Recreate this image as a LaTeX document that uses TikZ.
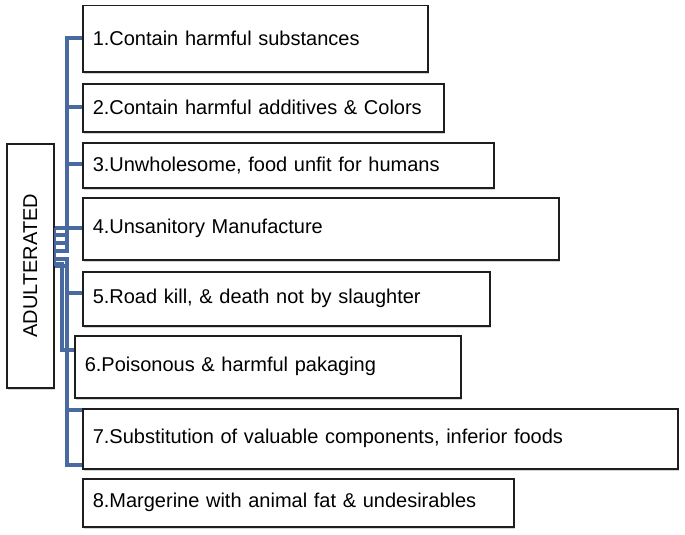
\documentclass[tikz,border=0pt]{standalone}
\usepackage{fontspec}
\setmainfont{Liberation Sans}
\usetikzlibrary{shadows}
\definecolor{connblue}{RGB}{72,106,160}
\definecolor{boxline}{RGB}{30,30,30}
\tikzset{
  itembox/.style={draw=boxline, line width=1.5pt, fill=white, anchor=north west,
    inner xsep=10pt, inner ysep=0pt, align=left, font=\fontsize{20}{24}\selectfont,
    drop shadow={opacity=0.35, shadow xshift=1.3pt, shadow yshift=-1.8pt}},
  conn/.style={draw=connblue, line width=3.5pt},
  thinconn/.style={draw=connblue, line width=2pt},
}
\begin{document}
\begin{tikzpicture}[x=1pt,y=-1pt]
\useasboundingbox (0,0) rectangle (685,535);
% root box
\node[itembox, inner xsep=0pt, minimum width=47pt, minimum height=244pt] (ad) at (6,143) {};
\node[rotate=90, font=\fontsize{20}{24}\selectfont] (adtext) at (ad.center) {ADULTERATED};
% connectors (drawn before boxes)
\draw[conn] (ad.east |- 0,228) -- (82,228);
\draw[conn] (ad.east |- 0,235) -- (67,235) -- (67,164) -- (82,164);
\draw[conn] (ad.east |- 0,243) -- (67,243) -- (67,107) -- (82,107);
\draw[conn] (ad.east |- 0,251) -- (67,251) -- (67,38) -- (82,38);
\draw[conn] (ad.east |- 0,259) -- (67,259) -- (67,293) -- (82,293);
\draw[conn] (ad.east |- 0,264) -- (62,264) -- (62,350) -- (74,350);
\draw[conn] (ad.east |- 0,266) -- (67,266) -- (67,410) -- (82,410);
\draw[conn] (67,400) -- (67,465) -- (82,465);
\draw[thinconn] (55,228) -- (55,266);
% item boxes
\node[itembox, text width=325pt, minimum height=66pt] (b1) at (82,5) {1.Contain harmful substances};
\node[itembox, text width=341pt, minimum height=48pt] (b2) at (82,83) {2.Contain harmful additives \& Colors};
\node[itembox, text width=391pt, minimum height=45pt] (b3) at (82,142) {3.Unwholesome, food unfit for humans};
\node[itembox, text width=456pt, minimum height=62pt] (b4) at (82,197) {4.Unsanitory Manufacture};
\node[itembox, text width=387pt, minimum height=54pt] (b5) at (82,271) {5.Road kill, \& death not by slaughter};
\node[itembox, text width=366pt, minimum height=62pt] (b6) at (74,335) {6.Poisonous \& harmful pakaging};
\node[itembox, text width=575pt, minimum height=60pt] (b7) at (82,408) {7.Substitution of valuable components, inferior foods};
\node[itembox, text width=411pt, minimum height=48pt] (b8) at (82,478) {8.Margerine with animal fat \& undesirables};
\end{tikzpicture}
\end{document}
